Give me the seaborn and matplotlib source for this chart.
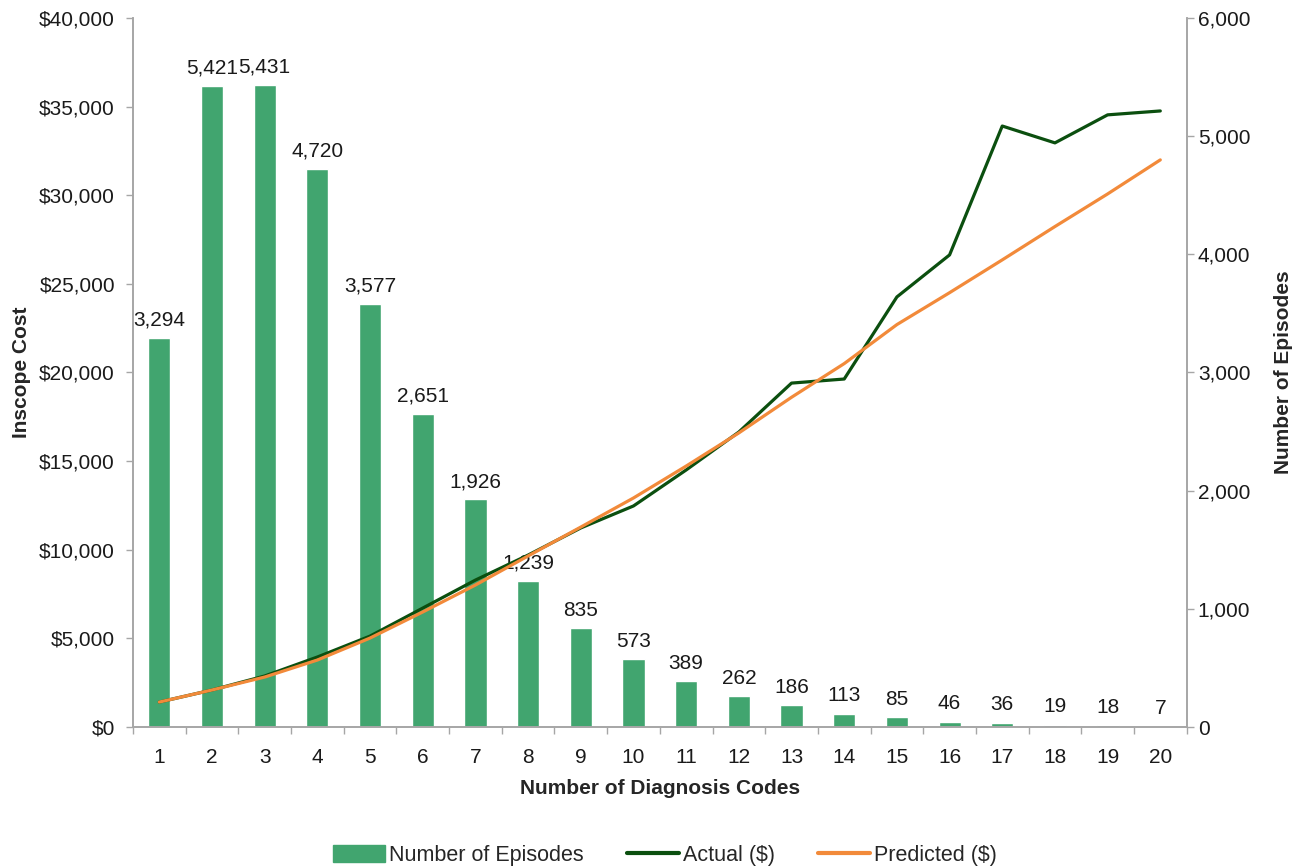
import matplotlib
matplotlib.use("Agg")
import numpy as np
import pandas as pd
import seaborn as sns
import matplotlib.pyplot as plt
from matplotlib.patches import Patch
from matplotlib.lines import Line2D
from matplotlib.ticker import FuncFormatter, MultipleLocator, FixedLocator

# data
codes = list(range(1, 21))
episodes = [3294, 5421, 5431, 4720, 3577, 2651, 1926, 1239, 835, 573,
            389, 262, 186, 113, 85, 46, 36, 19, 18, 7]
actual = [1410, 2090, 2880, 3950, 5130, 6710, 8290, 9700, 11230, 12470,
          14500, 16640, 19400, 19630, 24260, 26630, 33900, 32950, 34530, 34750]
predicted = [1410, 2090, 2820, 3780, 5020, 6490, 8010, 9650, 11280, 12920,
             14720, 16590, 18600, 20500, 22700, 24500, 26350, 28230, 30070, 31990]

bar_color = "#41a56f"
actual_color = "#0b4f0f"
pred_color = "#f28a3a"
grey = "#a6a6a6"
txt = "#1a1a1a"

df = pd.DataFrame({"codes": codes, "episodes": episodes,
                   "actual": actual, "predicted": predicted})
df["pos"] = np.arange(len(df))

sns.set_style("white")
plt.rcParams["font.family"] = ["Liberation Sans", "DejaVu Sans"]

fig = plt.figure(figsize=(13.04, 8.68), dpi=100)
ax = fig.add_axes([0.102, 0.1624, 0.808, 0.817])
ax2 = ax.twinx()

# bars on right axis
sns.barplot(data=df, x="pos", y="episodes", ax=ax2, color=bar_color,
            width=0.42, saturation=1, native_scale=True)
for c in ax2.containers:
    ax2.bar_label(c, labels=[f"{v:,}" for v in episodes], padding=6,
                  fontsize=15, color=txt)

# lines on left axis
sns.lineplot(data=df, x="pos", y="actual", ax=ax, color=actual_color, linewidth=2.3)
sns.lineplot(data=df, x="pos", y="predicted", ax=ax, color=pred_color, linewidth=2.3)

ax.set_zorder(ax2.get_zorder() + 1)
ax.patch.set_visible(False)

ax.set_xlim(-0.5, len(codes) - 0.5)
ax.set_ylim(0, 40000)
ax2.set_ylim(0, 6000)

ax.yaxis.set_major_locator(MultipleLocator(5000))
ax.yaxis.set_major_formatter(FuncFormatter(lambda v, p: f"${v:,.0f}"))
ax2.yaxis.set_major_locator(MultipleLocator(1000))
ax2.yaxis.set_major_formatter(FuncFormatter(lambda v, p: f"{v:,.0f}"))

ax.set_xticks(df["pos"])
ax.set_xticklabels([str(c) for c in codes])
ax.xaxis.set_minor_locator(FixedLocator(np.arange(-0.5, len(codes), 1.0)))
ax.tick_params(axis="x", which="major", length=0, pad=15, labelsize=15, colors=txt)
ax.tick_params(axis="x", which="minor", length=5, color=grey, width=1, bottom=True)
ax.tick_params(axis="y", length=5, color=grey, width=1, left=True, labelsize=15,
               labelcolor=txt, pad=8)
ax2.tick_params(axis="y", length=5, color=grey, width=1, right=True, labelsize=15,
                labelcolor=txt, pad=3)

for a in (ax, ax2):
    a.spines["top"].set_visible(False)
    for s in ("left", "right", "bottom"):
        a.spines[s].set_color(grey)
        a.spines[s].set_linewidth(1.2)

ax.set_xlabel("Number of Diagnosis Codes", fontsize=15, fontweight="bold", labelpad=9)
ax.set_ylabel("Inscope Cost", fontsize=15, fontweight="bold", labelpad=6)
ax2.set_ylabel("Number of Episodes", fontsize=15, fontweight="bold", labelpad=17)
ax2.set_xlabel("")

handles = [Patch(color=bar_color, label="Number of Episodes"),
           Line2D([], [], color=actual_color, linewidth=3, label="Actual ($)"),
           Line2D([], [], color=pred_color, linewidth=3, label="Predicted ($)")]
fig.legend(handles=handles, loc="lower center", bbox_to_anchor=(0.51, -0.02), ncol=3,
           frameon=False, fontsize=15.5, handlelength=2.4, handletextpad=0.2,
           columnspacing=2.0, handleheight=0.8)

fig.savefig("out.png", dpi=100)
